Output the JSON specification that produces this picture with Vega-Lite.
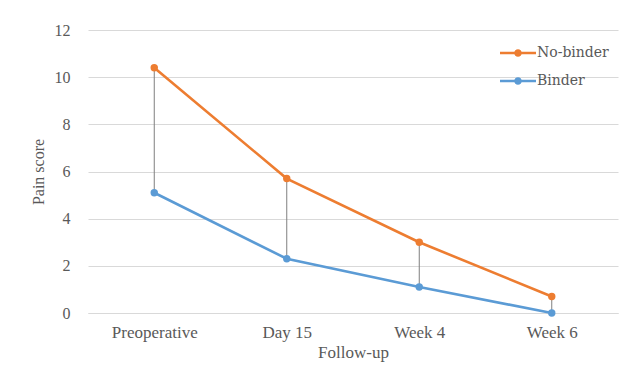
{
  "$schema": "https://vega.github.io/schema/vega-lite/v6.json",
  "width": 530,
  "height": 283,
  "autosize": {"type": "none"},
  "padding": {"left": 88, "top": 30, "right": 20, "bottom": 73},
  "background": "white",
  "config": {
    "view": {"stroke": null},
    "font": "Liberation Serif",
    "axis": {"labelFont": "Liberation Serif", "titleFont": "Liberation Serif", "labelColor": "#595959", "titleColor": "#595959", "titleFontWeight": "normal"},
    "legend": {"labelFont": "DejaVu Serif", "labelFontSize": 14, "labelColor": "#595959"}
  },
  "datasets": {
    "scores": [
      {"time": "Preoperative", "group": "No-binder", "score": 10.4},
      {"time": "Day 15", "group": "No-binder", "score": 5.7},
      {"time": "Week 4", "group": "No-binder", "score": 3.0},
      {"time": "Week 6", "group": "No-binder", "score": 0.7},
      {"time": "Preoperative", "group": "Binder", "score": 5.1},
      {"time": "Day 15", "group": "Binder", "score": 2.3},
      {"time": "Week 4", "group": "Binder", "score": 1.1},
      {"time": "Week 6", "group": "Binder", "score": 0.0}
    ],
    "ranges": [
      {"time": "Preoperative", "low": 5.1, "high": 10.4},
      {"time": "Day 15", "low": 2.3, "high": 5.7},
      {"time": "Week 4", "low": 1.1, "high": 3.0},
      {"time": "Week 6", "low": 0.0, "high": 0.7}
    ]
  },
  "encoding": {
    "x": {
      "field": "time", "type": "nominal",
      "scale": {"type": "point", "domain": ["Preoperative", "Day 15", "Week 4", "Week 6"], "padding": 0.5},
      "axis": {"title": "Follow-up", "labelAngle": 0, "labelFont": "Liberation Serif", "titleFont": "Liberation Serif", "labelFontSize": 17, "titleFontSize": 17, "labelPadding": 11, "titlePadding": 4, "domain": true, "domainColor": "#d9d9d9", "ticks": false, "grid": false}
    }
  },
  "layer": [
    {
      "data": {"name": "ranges"},
      "mark": {"type": "rule", "color": "#7f7f7f", "strokeWidth": 1},
      "encoding": {
        "y": {"field": "low", "type": "quantitative"},
        "y2": {"field": "high"}
      }
    },
    {
      "data": {"name": "scores"},
      "mark": {"type": "line", "strokeWidth": 2.6},
      "encoding": {
        "y": {
          "field": "score", "type": "quantitative",
          "scale": {"domain": [0, 12]},
          "axis": {"title": "Pain score", "values": [0, 2, 4, 6, 8, 10, 12], "labelFont": "Liberation Serif", "titleFont": "Liberation Serif", "labelFontSize": 16, "titleFontSize": 16, "labelPadding": 18, "titlePadding": 8, "domain": false, "ticks": false, "gridColor": "#d9d9d9"}
        },
        "color": {
          "field": "group", "type": "nominal",
          "scale": {"domain": ["No-binder", "Binder"], "range": ["#ED7D31", "#5B9BD5"]},
          "legend": {
            "title": null,
            "orient": "none",
            "legendX": 412,
            "legendY": 14,
            "symbolType": "M-1,-0.14L0.62,-0.14L0.62,0.14L-1,0.14Z M1.38,-0.14L3,-0.14L3,0.14L1.38,0.14Z M1.42,0 A0.42,0.42 0 1,1 0.58,0 A0.42,0.42 0 1,1 1.42,0 Z",
            "symbolSize": 324,
            "symbolStrokeWidth": 0,
            "labelOffset": 19,
            "labelFontSize": 14,
            "labelColor": "#595959",
            "rowPadding": 12
          }
        }
      }
    },
    {
      "data": {"name": "scores"},
      "mark": {"type": "point", "filled": true, "size": 55, "opacity": 1},
      "encoding": {
        "y": {"field": "score", "type": "quantitative"},
        "color": {"field": "group", "type": "nominal"}
      }
    }
  ]
}
